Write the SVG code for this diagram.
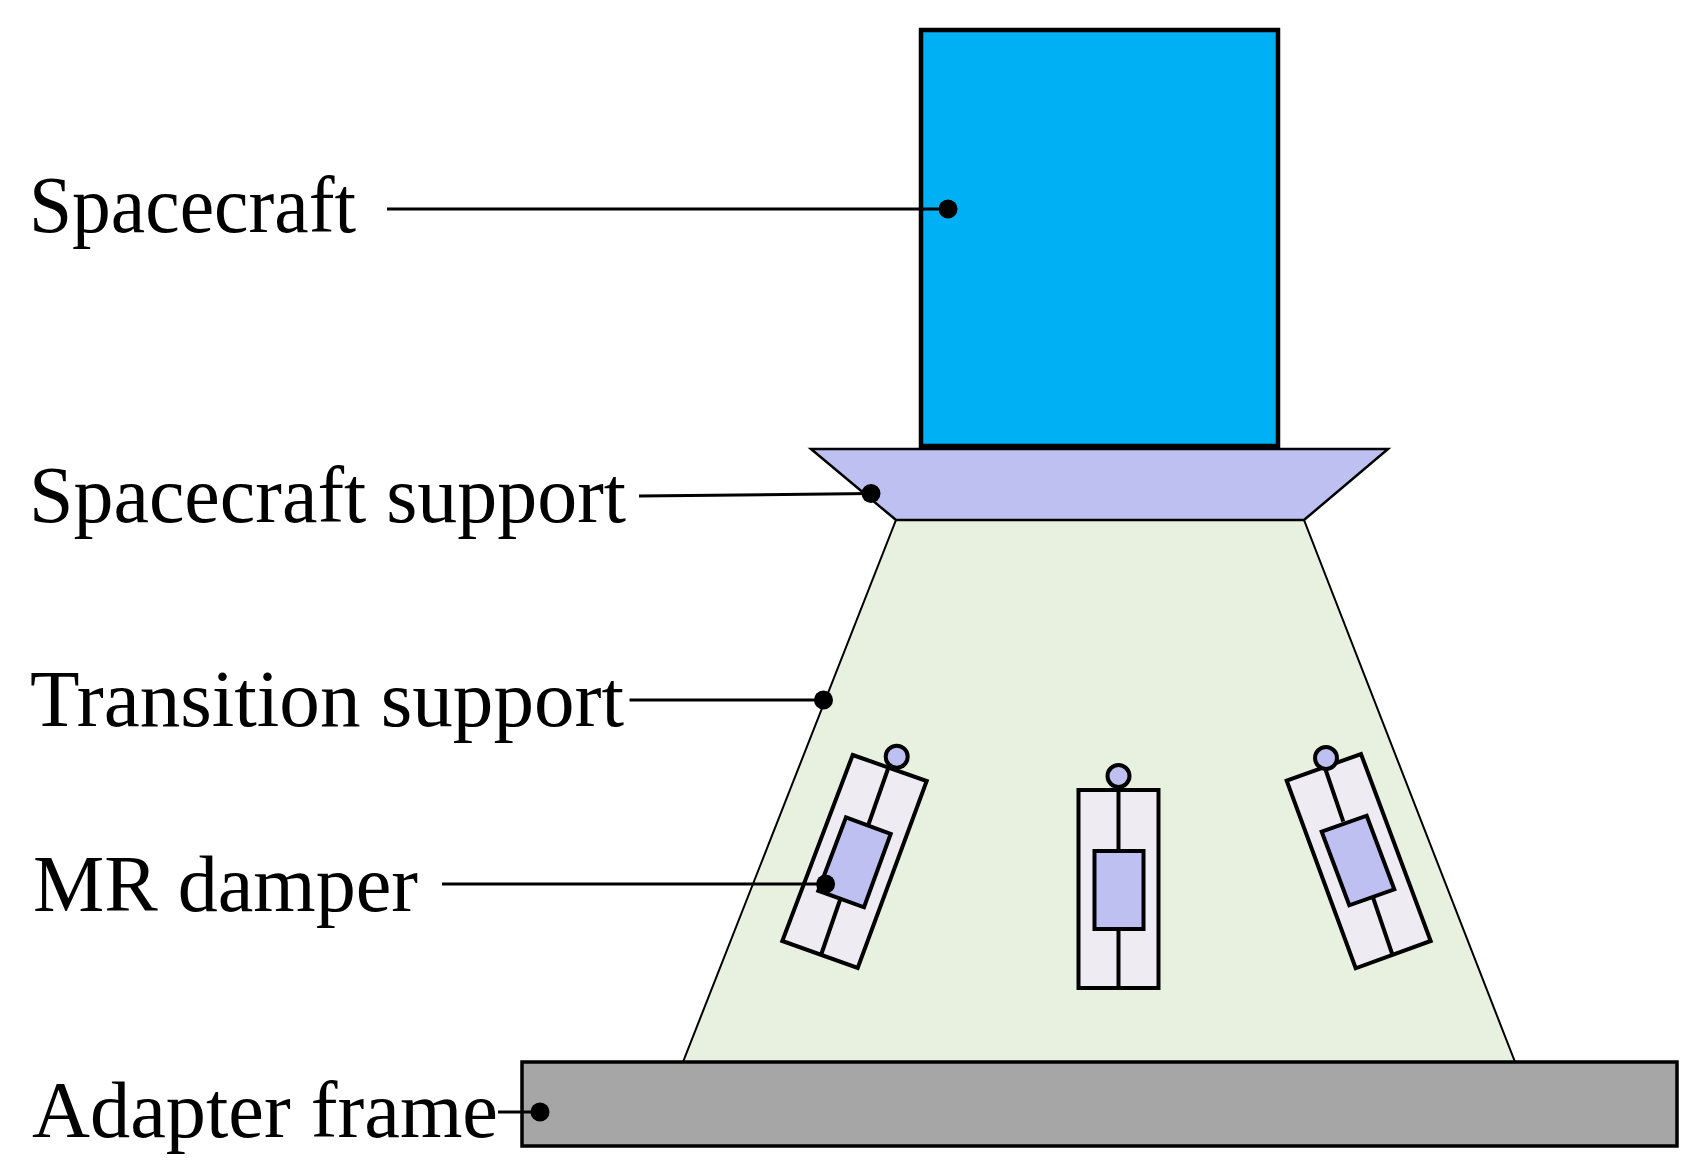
<svg xmlns="http://www.w3.org/2000/svg" width="1699" height="1167" viewBox="0 0 1699 1167">
<style>
.label{font-family:"Liberation Serif","Times New Roman",serif;font-size:80px;fill:#000}
.body{stroke:#000;stroke-linejoin:miter}
.housing{fill:#efebf3;stroke:#000;stroke-width:4}
.piston{fill:#bfc0f2;stroke:#000;stroke-width:4}
.rod{stroke:#000;stroke-width:4;fill:none}
.lead{stroke:#000;stroke-width:3;fill:none}
.dot{fill:#000}
</style>
<rect width="1699" height="1167" fill="#fff"/>
<g id="transition-support"><polygon class="body" points="896,520 1304,520 1515,1062 683,1062" fill="#e8f1df" stroke-width="2"/></g>
<g id="spacecraft"><rect class="body" x="921" y="30" width="357" height="416" fill="#00b0f5" stroke-width="4.500"/></g>
<g id="spacecraft-support"><polygon class="body" points="811,449 1388,449 1304,520 896,520" fill="#bfc0f2" stroke-width="2.500"/></g>
<g id="adapter-frame"><rect class="body" x="522" y="1062" width="1155" height="84" fill="#a6a6a6" stroke-width="3.500"/></g>
<g id="damper-left">
<polygon class="housing" points="852.700,755 926.700,781 857.700,968 782.300,941"/>
<line class="rod" x1="888.300" y1="768" x2="868.300" y2="825"/>
<line class="rod" x1="840" y1="900" x2="821" y2="955"/>
<polygon class="piston" points="846,817.300 890.700,834 864,907.300 818.300,890.700"/>
<circle class="piston" cx="896.700" cy="756.700" r="11"/>
</g>
<g id="damper-center">
<rect class="housing" x="1078.500" y="790" width="80" height="198"/>
<line class="rod" x1="1118.500" y1="787" x2="1118.500" y2="988"/>
<rect class="piston" x="1094.500" y="851" width="49" height="78"/>
<circle class="piston" cx="1118.500" cy="776" r="11"/>
</g>
<g id="damper-right">
<polygon class="housing" points="1286.700,780.700 1361,754 1430.700,941 1355.700,968.300"/>
<line class="rod" x1="1325.700" y1="770" x2="1343.300" y2="821.700"/>
<line class="rod" x1="1373.300" y1="898.300" x2="1392.300" y2="954.300"/>
<polygon class="piston" points="1321.700,831.700 1366.700,815.700 1394.300,889.300 1349.300,905.300"/>
<circle class="piston" cx="1326" cy="758" r="11"/>
</g>
<g id="connectors">
<line class="lead" x1="387" y1="209" x2="948" y2="209"/>
<line class="lead" x1="639" y1="496" x2="871" y2="493.500"/>
<line class="lead" x1="629.500" y1="700" x2="823.500" y2="700"/>
<line class="lead" x1="442" y1="884" x2="825.600" y2="884"/>
<line class="lead" x1="498" y1="1112" x2="540" y2="1112"/>
<circle class="dot" cx="948" cy="209" r="9.500"/>
<circle class="dot" cx="871" cy="493.500" r="9.500"/>
<circle class="dot" cx="823.500" cy="700" r="9.500"/>
<circle class="dot" cx="825.600" cy="884" r="9.500"/>
<circle class="dot" cx="540" cy="1112" r="9.500"/>
</g>
<g id="labels">
<text class="label" x="29" y="232" textLength="327" lengthAdjust="spacingAndGlyphs">Spacecraft</text>
<text class="label" x="29" y="522" textLength="597" lengthAdjust="spacingAndGlyphs">Spacecraft support</text>
<text class="label" x="30" y="726" textLength="594" lengthAdjust="spacingAndGlyphs">Transition support</text>
<text class="label" x="33" y="911" textLength="385" lengthAdjust="spacingAndGlyphs">MR damper</text>
<text class="label" x="32" y="1137" textLength="466" lengthAdjust="spacingAndGlyphs">Adapter frame</text>
</g>
</svg>
